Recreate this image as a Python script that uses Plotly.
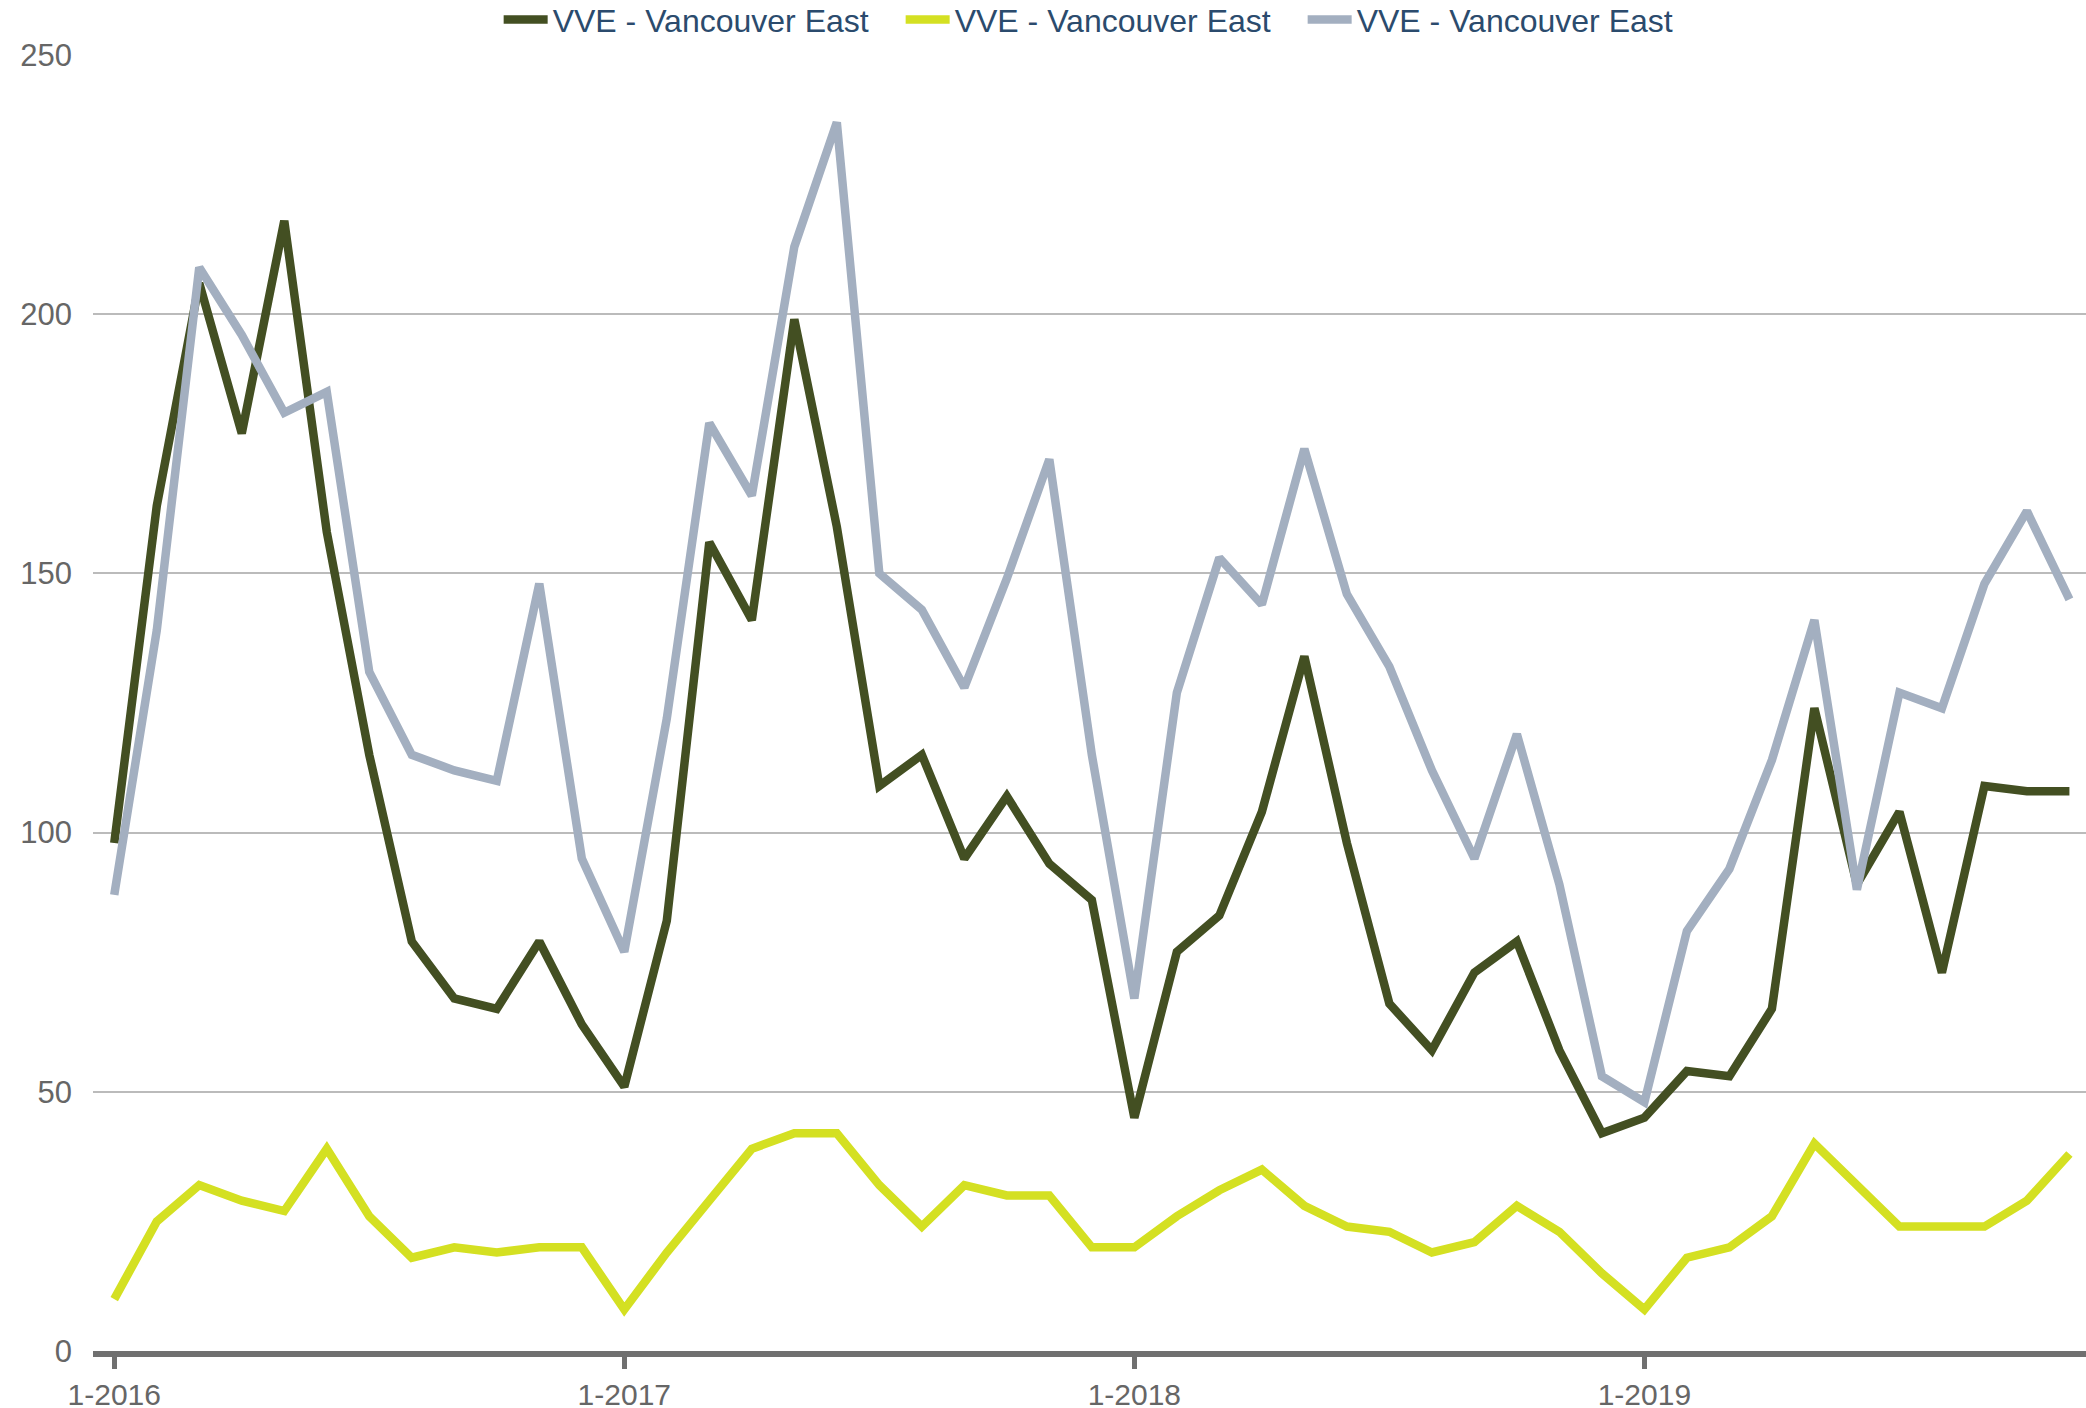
import plotly.graph_objects as go

# Months Jan 2016 .. Nov 2019
years = [2016, 2017, 2018, 2019]
months = [f"{m}-{y}" for y in years for m in range(1, 13)][:47]
tick_labels = ["1-2016", "1-2017", "1-2018", "1-2019"]
y_ticks = [0, 50, 100, 150, 200, 250]

series_names = ["VVE - Vancouver East", "VVE - Vancouver East", "VVE - Vancouver East"]

dark_green = [98, 163, 206, 177, 218, 158, 115, 79, 68, 66, 79, 63,
              51, 83, 156, 141, 199, 159, 109, 115, 95, 107, 94, 87,
              45, 77, 84, 104, 134, 98, 67, 58, 73, 79, 58, 42,
              45, 54, 53, 66, 124, 90, 104, 73, 109, 108, 108]

yellow = [10, 25, 32, 29, 27, 39, 26, 18, 20, 19, 20, 20,
          8, 19, 29, 39, 42, 42, 32, 24, 32, 30, 30, 20,
          20, 26, 31, 35, 28, 24, 23, 19, 21, 28, 23, 15,
          8, 18, 20, 26, 40, 32, 24, 24, 24, 29, 38]

grey = [88, 139, 209, 196, 181, 185, 131, 115, 112, 110, 148, 95,
        77, 122, 179, 165, 213, 237, 150, 143, 128, 149, 172, 115,
        68, 127, 153, 144, 174, 146, 132, 112, 95, 119, 90, 53,
        48, 81, 93, 114, 141, 89, 127, 124, 148, 162, 145]

colors = ["#434f22", "#d4e022", "#a3afc0"]
data = [dark_green, yellow, grey]

fig = go.Figure()
for name, vals, col in zip(series_names, data, colors):
    fig.add_trace(go.Scatter(
        x=months, y=vals, mode="lines", name=name,
        line=dict(color=col, width=8.5),
    ))

font_family = "Liberation Sans, Arial, sans-serif"

fig.update_layout(
    width=2086, height=1408,
    margin=dict(l=93, r=0, t=55, b=57, autoexpand=False),
    paper_bgcolor="white", plot_bgcolor="white",
    font=dict(family=font_family, size=31, color="#666666"),
    showlegend=True,
    legend=dict(orientation="h", x=0.5061, xanchor="center",
                yref="container", y=0.986, yanchor="middle",
                font=dict(size=32, color="#2b4b6d"), itemwidth=44,
                entrywidth=343, entrywidthmode="pixels",
                bgcolor="rgba(0,0,0,0)"),
    xaxis=dict(
        type="category",
        range=[-0.5, 46.39],
        tickmode="array",
        tickvals=tick_labels,
        ticktext=tick_labels,
        showgrid=False,
        showline=True, linecolor="#707070", linewidth=6,
        ticks="outside", ticklen=12, tickwidth=5, tickcolor="#707070",
        tickfont=dict(size=30, color="#666666"),
        zeroline=False, automargin=False,
    ),
    yaxis=dict(
        range=[0, 250],
        tickvals=y_ticks,
        showgrid=True, gridcolor="#bbbbbb", gridwidth=2,
        zeroline=False, showline=False,
        ticks="", ticklabelstandoff=20,
        tickfont=dict(size=31, color="#666666"),
        automargin=False,
    ),
)

fig.write_html(
    "out.html",
    config={"displayModeBar": False},
    post_script="document.body.style.margin='0';document.body.style.overflow='hidden';",
)
